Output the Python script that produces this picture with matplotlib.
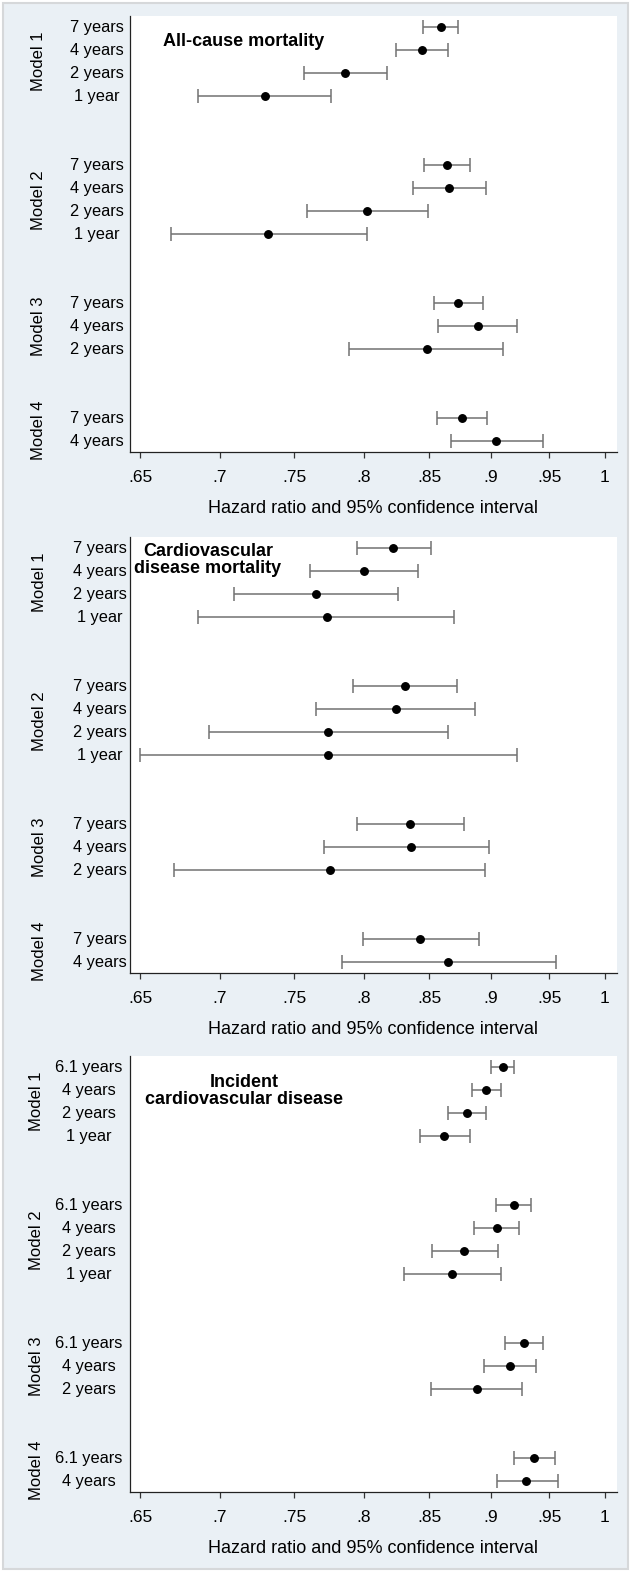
import numpy as np
import matplotlib
matplotlib.use("Agg")
import matplotlib.pyplot as plt
import matplotlib.transforms as mtransforms
from matplotlib.patches import Rectangle

plt.rcParams['font.family'] = ['Liberation Sans', 'DejaVu Sans']

# --- data (hazard ratio, lower and upper 95% CI), top to bottom ---
models = ["Model 1", "Model 2", "Model 3", "Model 4"]
group_sizes = [4, 4, 3, 2]

years_7 = ["7 years", "4 years", "2 years", "1 year",
           "7 years", "4 years", "2 years", "1 year",
           "7 years", "4 years", "2 years",
           "7 years", "4 years"]
years_61 = ["6.1 years", "4 years", "2 years", "1 year",
            "6.1 years", "4 years", "2 years", "1 year",
            "6.1 years", "4 years", "2 years",
            "6.1 years", "4 years"]

allcause_hr = [0.859, 0.844, 0.786, 0.730, 0.864, 0.866, 0.802, 0.732, 0.873, 0.889, 0.848, 0.876, 0.904]
allcause_lo = [0.845, 0.824, 0.757, 0.686, 0.846, 0.837, 0.759, 0.669, 0.854, 0.857, 0.789, 0.856, 0.867]
allcause_hi = [0.873, 0.865, 0.817, 0.776, 0.883, 0.896, 0.849, 0.802, 0.893, 0.922, 0.910, 0.897, 0.944]

cvdmort_hr = [0.822, 0.800, 0.765, 0.773, 0.831, 0.824, 0.774, 0.774, 0.835, 0.836, 0.775, 0.843, 0.865]
cvdmort_lo = [0.795, 0.761, 0.709, 0.686, 0.792, 0.765, 0.693, 0.650, 0.795, 0.771, 0.671, 0.799, 0.784]
cvdmort_hi = [0.851, 0.841, 0.826, 0.870, 0.872, 0.887, 0.865, 0.922, 0.878, 0.898, 0.895, 0.890, 0.956]

cvdinc_hr = [0.910, 0.896, 0.880, 0.862, 0.919, 0.905, 0.878, 0.868, 0.928, 0.916, 0.888, 0.937, 0.930]
cvdinc_lo = [0.900, 0.884, 0.865, 0.843, 0.904, 0.886, 0.852, 0.830, 0.912, 0.894, 0.851, 0.919, 0.905]
cvdinc_hi = [0.919, 0.908, 0.896, 0.883, 0.934, 0.924, 0.906, 0.908, 0.944, 0.938, 0.926, 0.955, 0.958]

xticks = [0.65, 0.7, 0.75, 0.8, 0.85, 0.9, 0.95, 1.0]
xticklabels = [".65", ".7", ".75", ".8", ".85", ".9", ".95", "1"]

panels = [
    ("All-cause mortality", years_7, allcause_hr, allcause_lo, allcause_hi),
    ("Cardiovascular\ndisease mortality", years_7, cvdmort_hr, cvdmort_lo, cvdmort_hi),
    ("Incident\ncardiovascular disease", years_61, cvdinc_hr, cvdinc_lo, cvdinc_hi),
]

# layout (pixels of the 633 x 1573 canvas)
W, H = 633, 1573
ax_left, ax_right = 130, 617
ax_tops = [16, 537, 1056]
ax_h = 436
title_pos = [(163, 42, 'left'), (208, 560, 'center'), (244, 1091, 'center')]
year_x = [97, 99.5, 88.5]
model_x = [38.5, 39.5, 36.5]
BG = '#EAF0F5'
GAP = 2  # blank rows between model groups

# row positions built from the group sizes
rows, groups = [], []
r = 0
for g in group_sizes:
    groups.append(list(range(r, r + g)))
    rows.extend(range(r, r + g))
    r += g + GAP
rows = np.array(rows)

fig = plt.figure(figsize=(W / 100, H / 100), dpi=100)
fig.patch.set_facecolor('white')
fig.patches.append(Rectangle((3 / W, 4 / H), 625 / W, 1566 / H, transform=fig.transFigure,
                             facecolor=BG, edgecolor='#D6D8DA', linewidth=1.5, zorder=-10))

for i, (title, ylabels, hr, lo, hi) in enumerate(panels):
    hr, lo, hi = np.array(hr), np.array(lo), np.array(hi)
    bottom = 1 - (ax_tops[i] + ax_h) / H
    ax = fig.add_axes([ax_left / W, bottom, (ax_right - ax_left) / W, ax_h / H])
    ax.set_facecolor('white')

    ax.errorbar(hr, rows, xerr=[hr - lo, hi - hr], fmt='o', color='black', ms=5.4,
                ecolor='#727272', elinewidth=1.1, capsize=5, capthick=1.1, zorder=3)

    ax.set_xscale('log')
    ax.set_xlim(0.644, 1.0115)
    ax.set_ylim(rows.max() + 0.46, -0.48)
    ax.set_xticks(xticks)
    ax.set_xticklabels(xticklabels, fontsize=12.5)
    ax.minorticks_off()
    ax.set_yticks([])
    ax.tick_params(axis='x', direction='out', length=4, width=0.9, color='#333333', pad=9)
    for s in ['top', 'right']:
        ax.spines[s].set_visible(False)
    for s in ['left', 'bottom']:
        ax.spines[s].set_linewidth(0.9)
        ax.spines[s].set_color('#222222')
    ax.set_xlabel("Hazard ratio and 95% confidence interval", fontsize=13, labelpad=11)

    # year labels and model labels outside the plot area
    trans = mtransforms.blended_transform_factory(fig.transFigure, ax.transData)
    for y, lab in zip(rows, ylabels):
        ax.text(year_x[i] / W, y, lab, transform=trans, ha='center', va='center',
                fontsize=11.8, clip_on=False)
    for g, m in zip(groups, models):
        ax.text(model_x[i] / W, np.mean(g), m, transform=trans, ha='center', va='center',
                rotation=90, fontsize=12, clip_on=False)

    tx, ty, ha = title_pos[i]
    fig.text(tx / W, 1 - ty / H, title, ha=ha, va='center', fontsize=13,
             fontweight='bold', linespacing=1.0)

fig.savefig("out.png", dpi=100, facecolor=fig.get_facecolor())
